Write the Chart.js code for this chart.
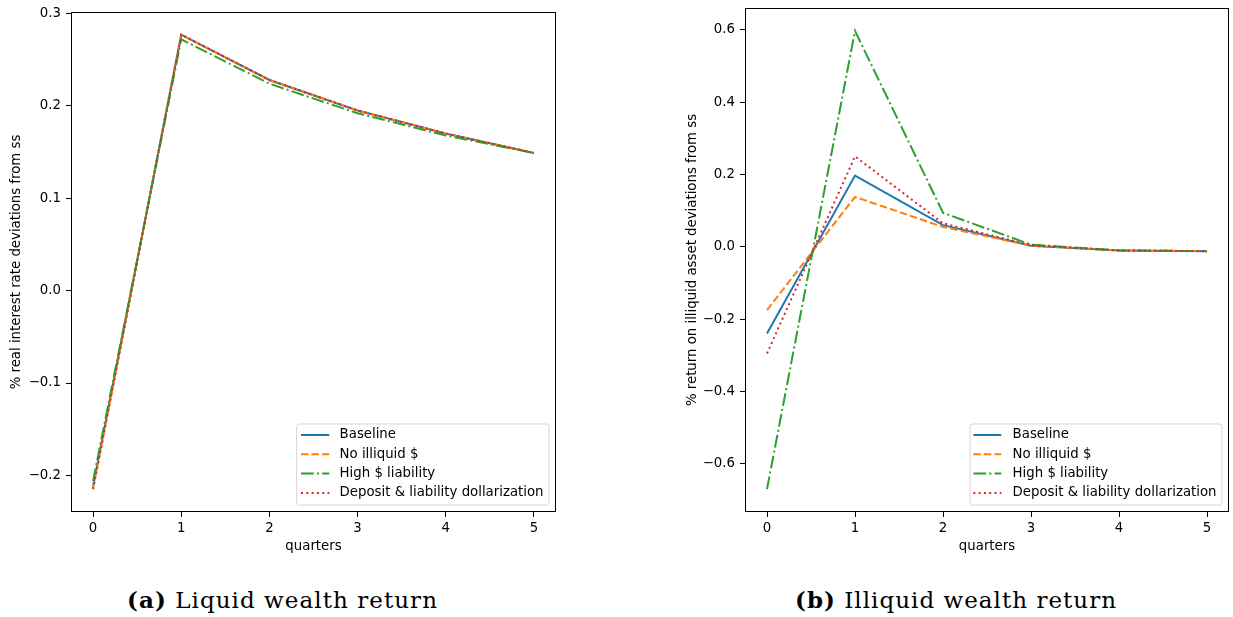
<!DOCTYPE html>
<html><head><meta charset="utf-8">
<script src="https://cdn.jsdelivr.net/npm/chart.js@4.4.0/dist/chart.umd.min.js"></script>
<style>
body{margin:0;background:#fff;width:1233px;height:617px;position:relative;overflow:hidden}
.c{position:absolute;top:0}
.cap{position:absolute;font-family:"DejaVu Serif",serif;font-size:23px;line-height:23px;color:#000;white-space:nowrap}
</style></head><body>
<div class="c" style="left:0"><canvas id="a" width="570" height="560"></canvas></div>
<div class="c" style="left:640px"><canvas id="b" width="593" height="560"></canvas></div>
<div class="cap" id="capA" style="left:127px;top:588px"><b>(a)</b> Liquid wealth return</div>
<div class="cap" id="capB" style="left:795px;top:588px"><b>(b)</b> Illiquid wealth return</div>
<script>
const quarters = [0,1,2,3,4,5];
const xTicks = [0,1,2,3,4,5];
const seriesNames = ['Baseline','No illiquid $','High $ liability','Deposit & liability dollarization'];

const liqBaseline   = [-0.212, 0.277, 0.228, 0.195, 0.170, 0.149];
const liqNoIlliquid = [-0.214, 0.277, 0.228, 0.195, 0.170, 0.149];
const liqHighLiab   = [-0.206, 0.272, 0.224, 0.192, 0.168, 0.149];
const liqDeposit    = [-0.215, 0.277, 0.228, 0.195, 0.170, 0.149];
const liqYTicks = [-0.2,-0.1,0.0,0.1,0.2,0.3];

const illBaseline   = [-0.240, 0.197, 0.060, 0.003, -0.010, -0.012];
const illNoIlliquid = [-0.175, 0.138, 0.055, 0.003, -0.010, -0.012];
const illHighLiab   = [-0.670, 0.597, 0.094, 0.006, -0.010, -0.012];
const illDeposit    = [-0.295, 0.250, 0.065, 0.004, -0.010, -0.012];
const illYTicks = [-0.6,-0.4,-0.2,0.0,0.2,0.4,0.6];

const colors = ['#1f77b4','#ff7f0e','#2ca02c','#d62728'];
const dashes = [[], [7.4,3.2], [12.8,3.2,2,3.2], [2,3.3]];
const FONT = 'DejaVu Sans';
const FS = 13.3;

function fmt(v){ return (v < -1e-9 ? '\u2212' : '') + Math.abs(v).toFixed(1); }

const framePlugin = {
  id:'frame',
  afterDatasetsDraw(chart){
    const {ctx, chartArea:a} = chart;
    ctx.save();
    ctx.strokeStyle = '#000'; ctx.lineWidth = 1;
    ctx.strokeRect(Math.round(a.left)+0.5, Math.round(a.top)+0.5, Math.round(a.right-a.left)-1, Math.round(a.bottom-a.top)-1);
    ctx.restore();
  }
};

const legendPlugin = {
  id:'mplLegend',
  afterDraw(chart, args, o){
    const {ctx, chartArea:a} = chart;
    const ds = chart.data.datasets;
    ctx.save();
    ctx.font = FS + 'px "' + FONT + '"';
    let tw = 0;
    ds.forEach(d => { tw = Math.max(tw, ctx.measureText(d.label).width); });
    const w = o.textOff + tw + 5.5, h = 81;
    const right = a.right - 7, bottom = a.bottom - 7;
    const left = right - w, top = bottom - h;
    const r = 2.7;
    ctx.beginPath();
    ctx.moveTo(left + r, top);
    ctx.arcTo(right, top, right, bottom, r);
    ctx.arcTo(right, bottom, left, bottom, r);
    ctx.arcTo(left, bottom, left, top, r);
    ctx.arcTo(left, top, right, top, r);
    ctx.closePath();
    ctx.fillStyle = 'rgba(255,255,255,0.8)';
    ctx.fill();
    ctx.strokeStyle = 'rgba(204,204,204,0.8)';
    ctx.lineWidth = 1;
    ctx.stroke();
    ds.forEach((d, i) => {
      const y = top + 11 + i * 19.3;
      ctx.beginPath();
      ctx.setLineDash(d.borderDash || []);
      ctx.strokeStyle = d.borderColor;
      ctx.lineWidth = 2;
      ctx.moveTo(left + o.hx0, y);
      ctx.lineTo(left + o.hx1, y);
      ctx.stroke();
      ctx.setLineDash([]);
      ctx.fillStyle = '#000';
      ctx.textBaseline = 'middle';
      ctx.textAlign = 'left';
      ctx.fillText(d.label, left + o.textOff, y);
    });
    ctx.restore();
  }
};

function zeroPad(s){ s.paddingTop = 0; s.paddingBottom = 0; s.paddingLeft = 0; s.paddingRight = 0; }

function makeChart(id, series, yTicks, yTitle, opt){
  const all = series.flat();
  const lo = Math.min(...all), hi = Math.max(...all), m = (hi - lo) * 0.05;
  return new Chart(document.getElementById(id), {
    type:'line',
    data:{
      datasets: series.map((s, i) => ({
        label: seriesNames[i],
        data: quarters.map((q, j) => ({x:q, y:s[j]})),
        borderColor: colors[i], backgroundColor: colors[i],
        borderWidth: 2, borderDash: dashes[i],
        pointRadius: 0, pointHoverRadius: 0, fill: false, tension: 0,
        order: 4 - i
      }))
    },
    options:{
      responsive:false, animation:false, devicePixelRatio:1,
      layout:{padding:{top:opt.top, right:opt.right, left:0, bottom:0}},
      plugins:{legend:{display:false}, tooltip:{enabled:false}, mplLegend:opt.legend},
      scales:{
        x:{
          type:'linear', min:-0.25, max:5.25,
          afterBuildTicks: s => { s.ticks = xTicks.map(v => ({value:v})); },
          afterFit: s => { s.height = 48; zeroPad(s); },
          grid:{drawOnChartArea:false, drawTicks:true, tickLength:5, color:'#000', lineWidth:1},
          border:{display:false},
          ticks:{color:'#000', font:{family:FONT, size:FS}, padding:4, maxRotation:0, autoSkip:false, callback: v => String(v)},
          title:{display:true, text:'quarters', color:'#000', font:{family:FONT, size:FS}, padding:{top:0, bottom:5.5}}
        },
        y:{
          type:'linear', min: lo - m, max: hi + m,
          afterBuildTicks: s => { s.ticks = yTicks.map(v => ({value:v})); },
          afterFit: s => { s.width = opt.yw; zeroPad(s); },
          grid:{drawOnChartArea:false, drawTicks:true, tickLength:5, color:'#000', lineWidth:1},
          border:{display:false},
          ticks:{color:'#000', font:{family:FONT, size:FS}, padding:5, autoSkip:false, callback: v => fmt(v)},
          title:{display:true, text:yTitle, color:'#000', font:{family:FONT, size:FS}, padding:{top:opt.tp, bottom:0}}
        }
      }
    },
    plugins:[framePlugin, legendPlugin]
  });
}

makeChart('a', [liqBaseline, liqNoIlliquid, liqHighLiab, liqDeposit], liqYTicks,
  '% real interest rate deviations from ss',
  {top:12, right:14, yw:71, tp:9, legend:{hx0:4.4, hx1:32.7, textOff:43}});
makeChart('b', [illBaseline, illNoIlliquid, illHighLiab, illDeposit], illYTicks,
  '% return on illiquid asset deviations from ss',
  {top:8, right:4, yw:105, tp:44.7, legend:{hx0:3.3, hx1:31.3, textOff:42.6}});

function fitCap(id, target){
  const el = document.getElementById(id);
  const n = el.textContent.length;
  const w = el.getBoundingClientRect().width;
  el.style.letterSpacing = ((target - w) / n) + 'px';
}
fitCap('capA', 311);
fitCap('capB', 322);
</script>
</body></html>
